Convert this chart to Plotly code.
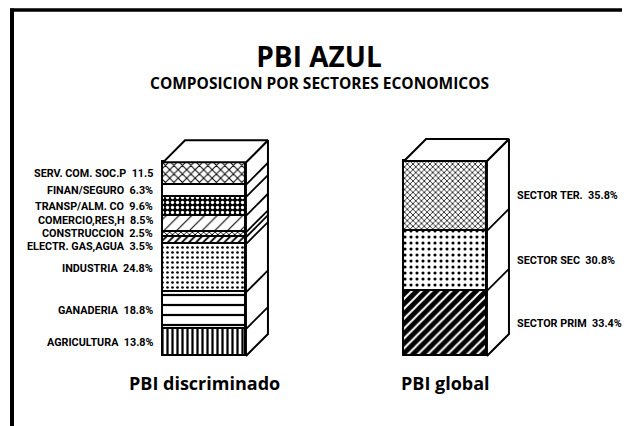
import plotly.graph_objects as go

# ---------------- data ----------------
bar_names = ["PBI discriminado", "PBI global"]

disc_labels = ["AGRICULTURA", "GANADERIA", "INDUSTRIA", "ELECTR. GAS,AGUA",
               "CONSTRUCCION", "COMERCIO,RES,H", "TRANSP/ALM. CO",
               "FINAN/SEGURO", "SERV. COM. SOC.P"]
disc_values = [13.8, 18.8, 24.8, 3.5, 2.5, 8.5, 9.6, 6.3, 11.5]
disc_text = ["13.8%", "18.8%", "24.8%", "3.5%", "2.5%", "8.5%", "9.6%", "6.3%", "11.5"]

glob_labels = ["SECTOR PRIM", "SECTOR SEC", "SECTOR TER."]
glob_values = [33.4, 30.8, 35.8]
glob_text = ["33.4%", "30.8%", "35.8%"]

# ---------------- styles ----------------
# (shape, size, solidity, fg, bg)
disc_patterns = [
    ("|", 5, 0.45, "black", "white"),
    ("-", 10, 0.22, "black", "white"),
    (".", 5, 0.22, "black", "white"),
    ("/", 5, 0.35, "black", "white"),
    ("x", 4, 0.4, "black", "white"),
    ("/", 9, 0.12, "black", "white"),
    (".", 5, 0.35, "white", "black"),
    ("", 8, 0.2, "black", "white"),
    ("x", 6, 0.3, "black", "white"),
]
glob_patterns = [
    ("/", 7, 0.28, "white", "black"),
    (".", 6, 0.22, "black", "white"),
    ("x", 4, 0.35, "black", "white"),
]

W = 0.344          # bar width (x units)
DX = 0.0913        # 3D depth, x units
DY = 11.3          # 3D depth, y units
LBL_FONT = dict(family="Liberation Sans Narrow, Arial Narrow, Roboto, sans-serif",
                size=10.8, color="black")
MAIN_FONT = "Open Sans, Lato, sans-serif"

fig = go.Figure()


def add_stack(xpos, values, patterns):
    for v, (shp, sz, sol, fg, bg) in zip(values, patterns):
        fig.add_trace(go.Bar(
            x=[xpos], y=[v], width=W,
            marker=dict(color=bg, line=dict(color="black", width=1.6),
                        pattern=dict(shape=shp, size=sz, solidity=sol,
                                     fgcolor=fg, bgcolor=bg, fillmode="replace")),
            showlegend=False, hoverinfo="skip"))
    top = sum(values)
    x0, x1 = xpos - W / 2, xpos + W / 2
    # side face
    fig.add_trace(go.Scatter(
        x=[x1, x1 + DX, x1 + DX, x1, x1], y=[0, DY, top + DY, top, 0],
        fill="toself", fillcolor="white", mode="lines",
        line=dict(color="black", width=2), showlegend=False, hoverinfo="skip"))
    # top face
    fig.add_trace(go.Scatter(
        x=[x0, x0 + DX, x1 + DX, x1, x0], y=[top, top + DY, top + DY, top, top],
        fill="toself", fillcolor="white", mode="lines",
        line=dict(color="black", width=2), showlegend=False, hoverinfo="skip"))
    # dividers on side face
    xs, ys = [], []
    c = 0
    for v in values[:-1]:
        c += v
        xs += [x1, x1 + DX, None]
        ys += [c, c + DY, None]
    fig.add_trace(go.Scatter(x=xs, y=ys, mode="lines",
                             line=dict(color="black", width=1.8),
                             showlegend=False, hoverinfo="skip"))
    return top


def centers(values):
    out, c = [], 0
    for v in values:
        out.append(c + v / 2)
        c += v
    return out


def spread(ys, gap):
    # push label positions apart (in data units) keeping order
    groups = [[y] for y in ys]
    changed = True
    while changed:
        changed = False
        i = 0
        while i < len(groups) - 1:
            n1, n2 = len(groups[i]), len(groups[i + 1])
            c1 = sum(groups[i]) / n1
            c2 = sum(groups[i + 1]) / n2
            top1 = c1 + (n1 - 1) * gap / 2
            bot2 = c2 - (n2 - 1) * gap / 2
            if bot2 - top1 < gap:
                groups[i] = groups[i] + groups[i + 1]
                del groups[i + 1]
                changed = True
            else:
                i += 1
    out = []
    for g in groups:
        m = sum(g) / len(g)
        n = len(g)
        for k in range(n):
            out.append(m + (k - (n - 1) / 2) * gap)
    return out


add_stack(0, disc_values, disc_patterns)
add_stack(1, glob_values, glob_patterns)

fig.update_layout(barmode="stack", bargap=0)

# left labels
ly = spread(centers(disc_values), 6.7)
for lab, t, y in zip(disc_labels, disc_text, ly):
    fig.add_annotation(x=0 - W / 2, y=y, xref="x", yref="y",
                       text=f"<b>{lab}\u00a0\u00a0{t}</b>", showarrow=False,
                       xanchor="right", yanchor="middle", xshift=-8, font=LBL_FONT)

# right labels
for lab, t, y in zip(glob_labels, glob_text, centers(glob_values)):
    fig.add_annotation(x=1 + W / 2 + DX, y=y, xref="x", yref="y",
                       text=f"<b>{lab}\u00a0\u00a0{t}</b>", showarrow=False,
                       xanchor="left", yanchor="middle", xshift=6, font=LBL_FONT)

# bar names
for i, name in enumerate(bar_names):
    fig.add_annotation(x=i, y=1 - 383 / 426, xref="x", yref="paper",
                       text=f"<b>{name}</b>", showarrow=False,
                       xanchor="center", yanchor="middle",
                       font=dict(family=MAIN_FONT, size=18, color="black"))

# subtitle
fig.add_annotation(x=0.5, y=1 - 83 / 426, xref="paper", yref="paper",
                   text="<b>COMPOSICION POR SECTORES ECONOMICOS</b>", showarrow=False,
                   xanchor="center", yanchor="middle",
                   font=dict(family=MAIN_FONT, size=15.5, color="black"))

# frame
fig.add_shape(type="line", xref="paper", yref="paper",
              x0=10 / 638, x1=622 / 638, y0=1 - 10 / 426, y1=1 - 10 / 426,
              line=dict(color="black", width=3.5))
fig.add_shape(type="line", xref="paper", yref="paper",
              x0=12 / 638, x1=12 / 638, y0=1 - 8.5 / 426, y1=0,
              line=dict(color="black", width=4))

fig.update_layout(
    width=638, height=426,
    margin=dict(l=0, r=0, t=0, b=0),
    paper_bgcolor="white", plot_bgcolor="white",
    title=dict(text="<b>PBI AZUL</b>", x=0.5, xanchor="center",
               y=1 - 57 / 426, yanchor="middle", yref="container",
               font=dict(family=MAIN_FONT, size=28, color="black")),
    xaxis=dict(range=[-204.5 / 241, (638 - 204.5) / 241], visible=False, fixedrange=True),
    yaxis=dict(range=[-(426 - 356) / 1.95, 356 / 1.95], visible=False, fixedrange=True),
)

fig.write_html("out.html", config={"displayModeBar": False},
               post_script="document.body.style.margin='0';document.body.style.overflow='hidden';")
